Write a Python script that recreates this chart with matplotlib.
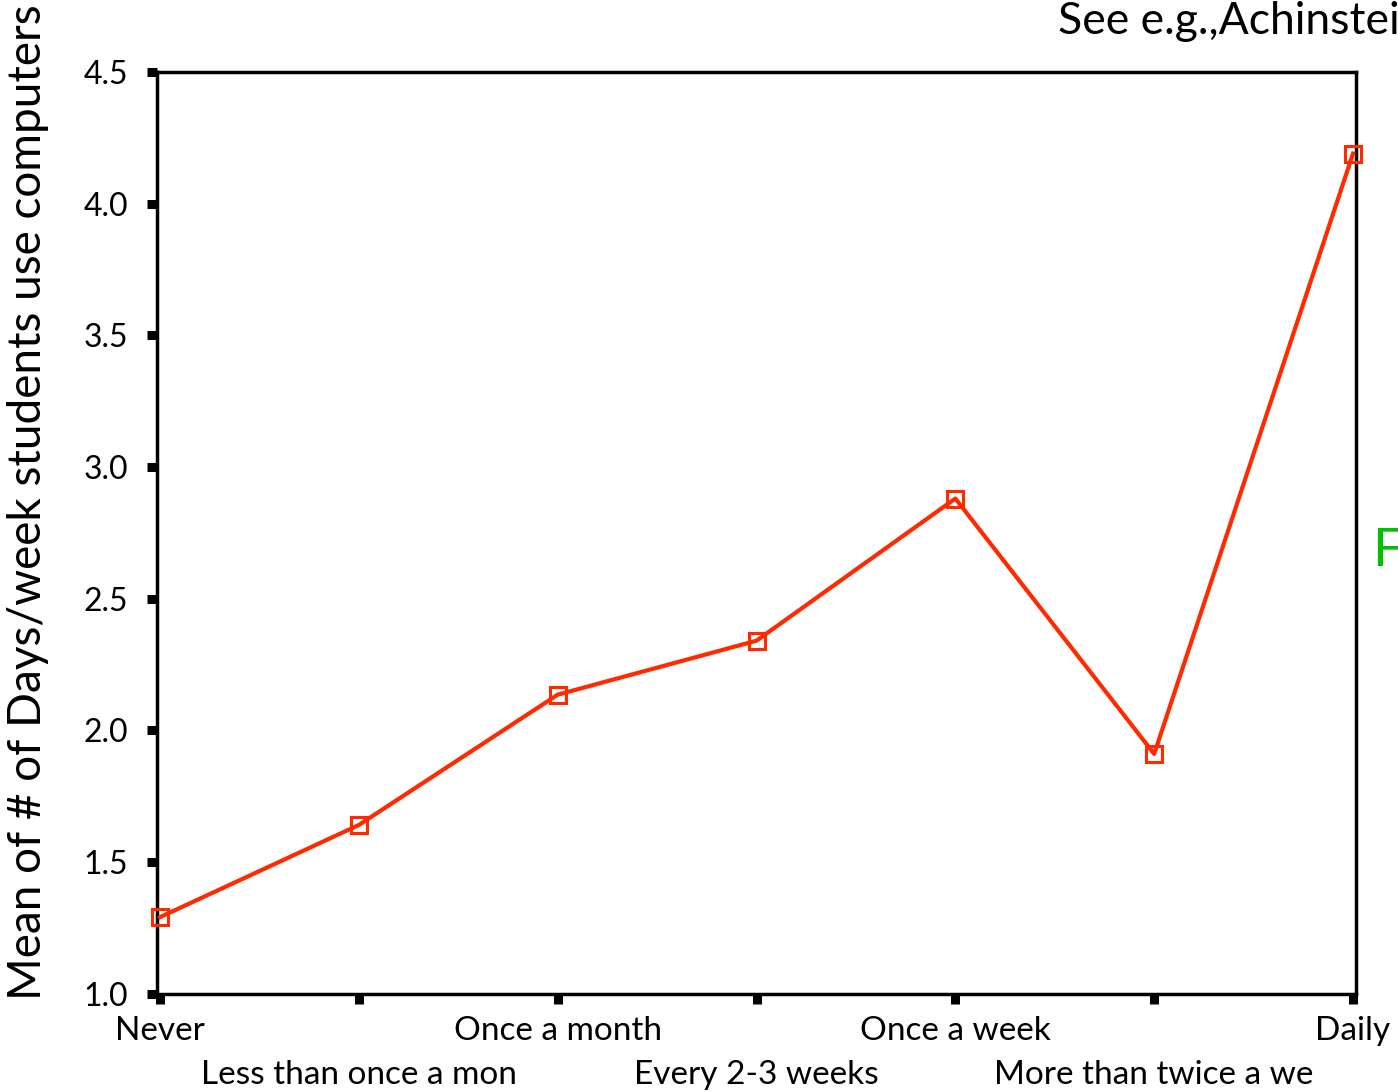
"""Mean days/week students use computers by frequency category."""

import matplotlib

matplotlib.use("Agg")
import matplotlib.pyplot as plt
import numpy as np

plt.rcParams["font.family"] = ["Lato", "DejaVu Sans"]

categories = [
    "Never",
    "Less than once a mon",
    "Once a month",
    "Every 2-3 weeks",
    "Once a week",
    "More than twice a we",
    "Daily",
]
mean_days = [1.29, 1.64, 2.135, 2.34, 2.88, 1.91, 4.19]
y_ticks = [1.0, 1.5, 2.0, 2.5, 3.0, 3.5, 4.0, 4.5]

line_color = "#ff2a00"

fig = plt.figure(figsize=(13.98, 10.92), dpi=100)
ax = fig.add_axes([157 / 1398, 1 - 993.5 / 1092, 1199 / 1398, 921.5 / 1092])

x = np.arange(len(categories))
ax.plot(
    x,
    mean_days,
    color=line_color,
    linewidth=3,
    marker="s",
    markersize=12,
    markerfacecolor="none",
    markeredgecolor=line_color,
    markeredgewidth=2.2,
    clip_on=False,
    zorder=3,
)

ax.set_xlim(-0.015, 6.015)
ax.set_ylim(1.0, 4.5)

ax.set_yticks(y_ticks)
ax.set_yticklabels([f"{v:.1f}" for v in y_ticks])

# alternate labels on two rows: even ones as major ticks, odd ones as minor
ax.set_xticks(x[::2])
ax.set_xticklabels(categories[::2])
ax.set_xticks(x[1::2], minor=True)
ax.set_xticklabels(categories[1::2], minor=True)

for spine in ax.spines.values():
    spine.set_linewidth(2.5)
    spine.set_color("black")

ax.tick_params(axis="both", which="both", direction="out", width=6.5, length=7, colors="black")
ax.tick_params(axis="y", pad=14, labelsize=23)
ax.tick_params(axis="x", which="major", pad=9, labelsize=24)
ax.tick_params(axis="x", which="minor", pad=41, labelsize=24)

ax.set_ylabel("Mean of # of Days/week students use computers", fontsize=33)
ax.yaxis.set_label_coords(-0.09, 0.533)

fig.text(1058 / 1398, 1 - 22 / 1092, "See e.g.,Achinstei", fontsize=32, va="center", ha="left")
fig.text(1372 / 1398, 1 - 552 / 1092, "F", fontsize=38, color="#00c000", va="center", ha="left")

fig.savefig("out.png", dpi=100)
plt.close(fig)
